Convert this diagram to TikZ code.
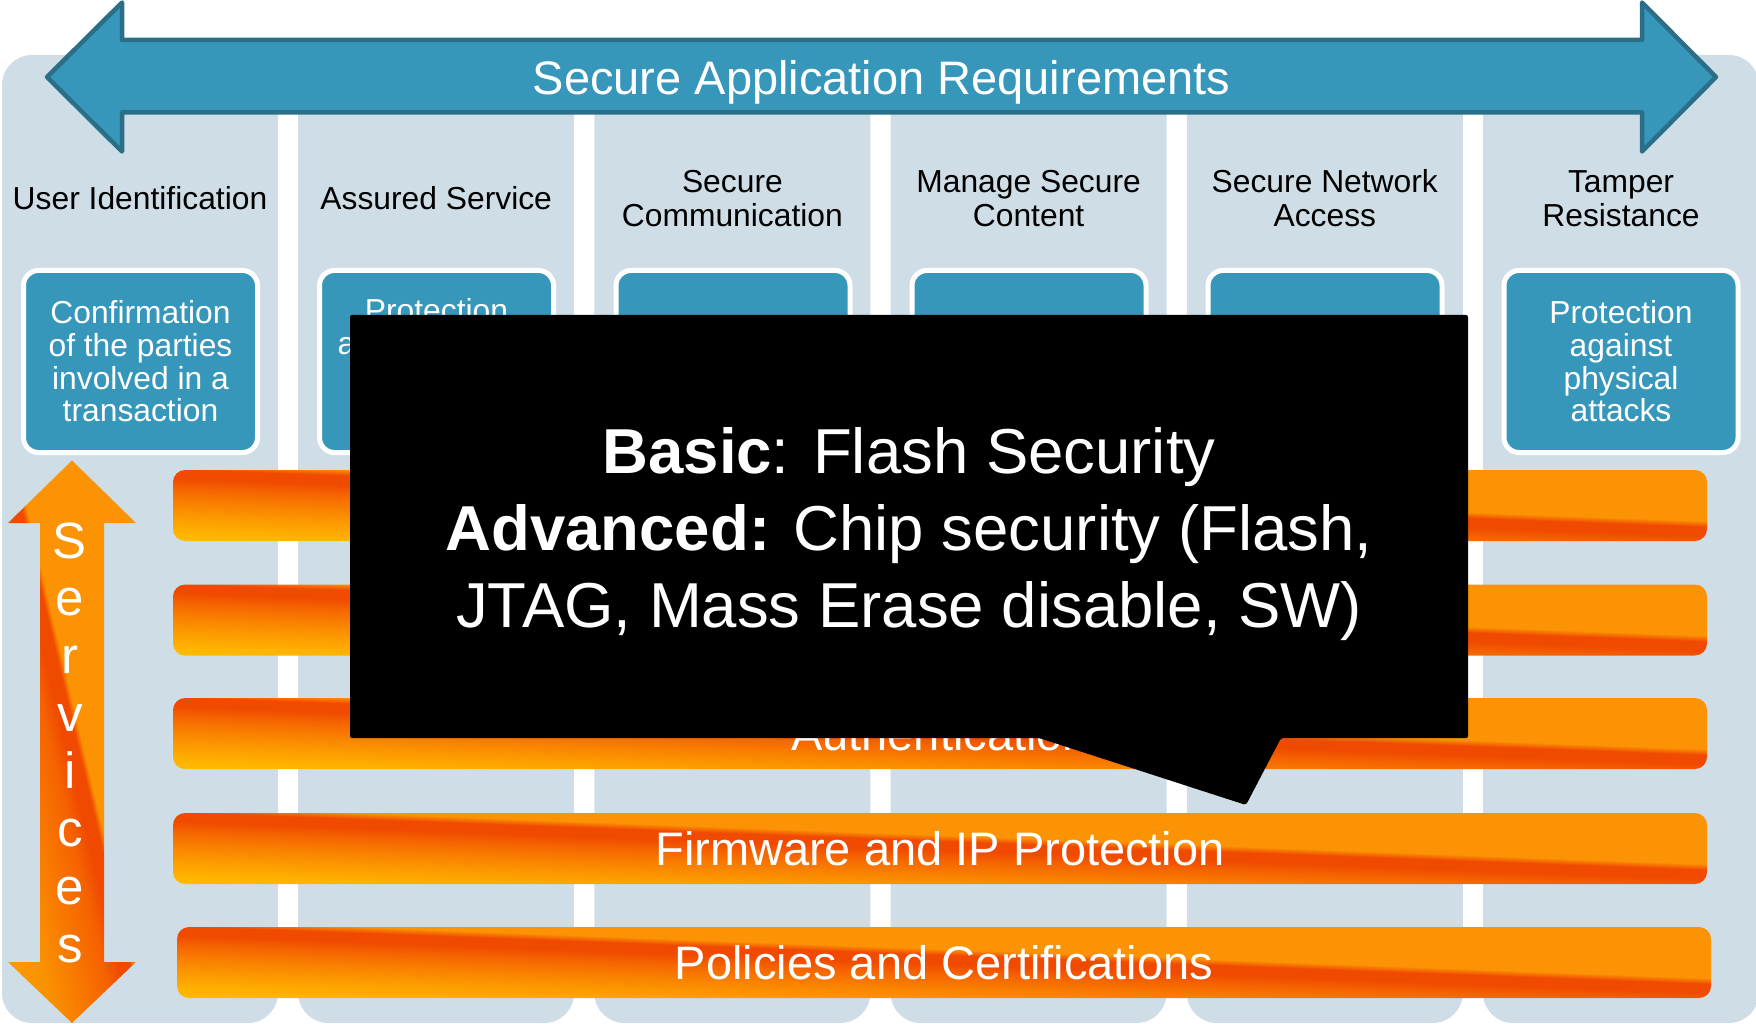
\documentclass[tikz,border=0pt]{standalone}
\usepackage{fontspec}
\setmainfont{Liberation Sans}
\definecolor{colbg}{HTML}{CFDDE6}
\definecolor{reqblue}{HTML}{3797BA}
\definecolor{reqedge}{HTML}{2B6E87}
\definecolor{barO}{HTML}{FB9304}
\definecolor{barR}{HTML}{F04A00}
% service bands: colour across a shallow streak, yellow far below it, orange above it
\pgfdeclareverticalshading{barshade}{100bp}{%
  color(0bp)=(rgb,255:red,255;green,192;blue,0);
  color(25bp)=(rgb,255:red,255;green,190;blue,0);
  color(29.2bp)=(rgb,255:red,255;green,180;blue,0);
  color(34.4bp)=(rgb,255:red,252;green,156;blue,0);
  color(39.6bp)=(rgb,255:red,249;green,130;blue,0);
  color(44.8bp)=(rgb,255:red,245;green,100;blue,0);
  color(48.3bp)=(barR);
  color(51.4bp)=(barR);
  color(53.5bp)=(barO);
  color(100bp)=(barO)}
% vertical services arrow: the same streak, milder on the lower side
\pgfdeclareverticalshading{svcshade}{100bp}{%
  color(0bp)=(rgb,255:red,252;green,162;blue,0);
  color(25bp)=(rgb,255:red,252;green,162;blue,0);
  color(34.6bp)=(rgb,255:red,250;green,144;blue,0);
  color(41.3bp)=(rgb,255:red,248;green,116;blue,0);
  color(45.8bp)=(rgb,255:red,245;green,98;blue,0);
  color(48.5bp)=(barR);
  color(50.8bp)=(barR);
  color(51.8bp)=(barO);
  color(100bp)=(barO)}
% one shaded service band: #1 centre x, #2 top y
\newcommand\bandfill[2]{%
  \begin{scope}
    \clip[rounded corners=12] ({#1-767},#2) rectangle ({#1+767},{#2+71});
    \begin{scope}[transform canvas={shift={(#1,{#2+32})}, rotate=-2.165}]
      \shade[shading=barshade] (-800,-72) rectangle (800,72);
    \end{scope}
  \end{scope}}
\begin{document}
\begin{tikzpicture}[x=1pt, y=-1pt,
  colbox/.style={fill=colbg, rounded corners=30},
  reqbox/.style={draw=white, line width=5, fill=reqblue, rounded corners=15,
    minimum width=234, minimum height=182, inner sep=0, text=white, align=center,
    font=\fontsize{31.8}{32.7}\selectfont},
  boxtxt/.style={inner sep=0, text=white, font=\fontsize{31.8}{32.7}\selectfont},
  hdr/.style={align=center, inner sep=0, font=\fontsize{31.8}{34}\selectfont},
  svctext/.style={minimum width=1534, minimum height=71, inner sep=0, text=white,
    font=\fontsize{47}{50}\selectfont},
]
\useasboundingbox (0,0) rectangle (1756,1024);

% six requirement columns
\foreach \i in {0,...,5}
  \fill[colbox] ({2+296.2*\i},55) rectangle ++(276,968);

% double-headed banner arrow
\draw[draw=reqedge, fill=reqblue, line width=4.5, line join=round]
  (47,77) -- (122,2.5) -- (122,40) -- (1642,40) -- (1642,2.5) -- (1716,77)
  -- (1642,151.5) -- (1642,112.5) -- (122,112.5) -- (122,151.5) -- cycle;
\node[text=white, font=\fontsize{47}{50}\selectfont, anchor=base, inner sep=0]
  (title) at (881.5,95) {Secure Application Requirements};

% column headings
\node[hdr] (h1) at (140,198.5) {User Identification};
\node[hdr] (h2) at (436.2,198.5) {Assured Service};
\node[hdr] (h3) at (732.4,198.5) {Secure\\Communication};
\node[hdr] (h4) at (1028.6,198.5) {Manage Secure\\Content};
\node[hdr] (h5) at (1324.8,198.5) {Secure Network\\Access};
\node[hdr] (h6) at (1621,198.5) {Tamper\\Resistance};

% requirement boxes
\node[reqbox] (r1) at (140.5,361.5) {Confirmation\\of the parties\\involved in a\\transaction};
\node[reqbox] (r2) at (436.5,361.5) {};
\node[reqbox] (r3) at (733,361.5) {};
\node[reqbox] (r4) at (1029,361.5) {};
\node[reqbox] (r5) at (1325,361.5) {};
\node[reqbox] (r6) at (1621,361.5) {Protection\\against\\physical\\attacks};
\node[boxtxt, anchor=base] (r2a) at (436.5,322) {Protection};
\node[boxtxt, anchor=base west] (r2b) at (337.5,354.7) {a};

% service bands
\bandfill{940}{470}
\bandfill{940}{584.5}
\bandfill{940}{698}
\bandfill{940}{813}
\bandfill{944}{927}
\node[svctext] (s1) at (940,505.5) {};
\node[svctext] (s2) at (940,620) {};
\node[svctext] (s3) at (940,733.5) {Authentication};
\node[svctext] (s4) at (940,848.5) {Firmware and IP Protection};
\node[svctext] (s5) at (944,962.5) {Policies and Certifications};

% vertical services arrow
\begin{scope}
  \clip (72,460.5) -- (136,523) -- (104,523) -- (104,962) -- (136,962) -- (72,1023)
    -- (8,962) -- (40,962) -- (40,523) -- (8,523) -- cycle;
  \begin{scope}[transform canvas={shift={(72.6,742.5)}, rotate=-76.7}]
    \shade[shading=svcshade] (-330,-130) rectangle (330,130);
  \end{scope}
\end{scope}
\node[text=white, align=center, inner sep=0, font=\fontsize{51}{57.7}\selectfont]
  (svc) at (70,742.5) {S\\e\\r\\v\\i\\c\\e\\s};

% black callout
\fill[black, rounded corners=2] (350,315) -- (1468,315) -- (1468,738) -- (1281,738)
  -- (1246,805) -- (1039,738) -- (350,738) -- cycle;
\node[text=white, align=center, inner sep=0, font=\fontsize{63.5}{77}\selectfont]
  (note) at (909,534.5) {\textbf{Basic}: Flash Security\\\textbf{Advanced:} Chip security (Flash,\\JTAG, Mass Erase disable, SW)};
\end{tikzpicture}
\end{document}
